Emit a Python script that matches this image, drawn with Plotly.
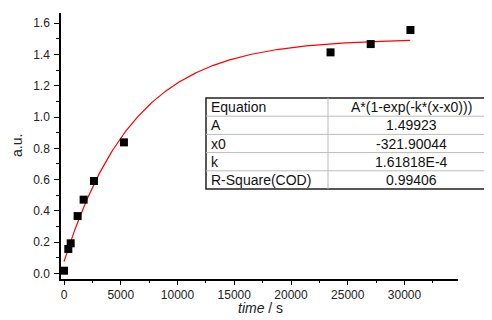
import numpy as np
import plotly.graph_objects as go

# ---- data ----
time_s = [0, 380, 590, 1200, 1730, 2640, 5280, 23480, 27020, 30520]
signal = [0.018, 0.157, 0.193, 0.367, 0.472, 0.591, 0.838, 1.413, 1.466, 1.556]

# fit parameters (as shown in the table)
fit_A = 1.49923
fit_x0 = -321.90044
fit_k = 1.61818e-4
r_square = 0.99406
fit_x_max = 30500

table_labels = ["Equation", "A", "x0", "k", "R-Square(COD)"]
table_values = ["A*(1-exp(-k*(x-x0)))", "1.49923", "-321.90044", "1.61818E-4", "0.99406"]

x_ticks = [0, 5000, 10000, 15000, 20000, 25000, 30000]
y_ticks = [0.0, 0.2, 0.4, 0.6, 0.8, 1.0, 1.2, 1.4, 1.6]

# fitted model curve evaluated from the fit parameters
fit_x = np.linspace(0, fit_x_max, 300)
fit_y = fit_A * (1 - np.exp(-fit_k * (fit_x - fit_x0)))

OFF = 8  # default page body margin
W, H = 492 - OFF, 320 - OFF
L, R, T, B = 61, 458, 13, 279  # plot area in page pixels


def px(x):
    return (x - L) / (R - L)


def py(y):
    return (B - y) / (B - T)


FONT = "Liberation Sans, Arial, sans-serif"

fig = go.Figure()
fig.add_trace(go.Scatter(x=fit_x, y=fit_y, mode="lines",
                         line=dict(color="#ff0000", width=1.2), showlegend=False))
fig.add_trace(go.Scatter(x=time_s, y=signal, mode="markers",
                         marker=dict(symbol="square", size=8, color="black"),
                         showlegend=False))

axis_common = dict(showline=True, linecolor="black", linewidth=1.5, mirror=False,
                   showgrid=False, zeroline=False, ticks="outside",
                   tickwidth=1, tickcolor="black", automargin=False,
                   tickfont=dict(family=FONT, size=12, color="#222"))

fig.update_xaxes(range=[-264, 34710], tickvals=x_ticks, ticklen=4,
                 ticktext=[str(v) for v in x_ticks],
                 minor=dict(dtick=2500, tick0=0, ticks="outside", ticklen=2,
                            tickcolor="black", tickwidth=1),
                 **axis_common)
fig.update_yaxes(range=[-0.035, 1.6645], tickvals=y_ticks, ticklen=5,
                 ticktext=[f"{v:.1f}" for v in y_ticks], ticklabelstandoff=2,
                 minor=dict(dtick=0.1, tick0=0, ticks="outside", ticklen=3,
                            tickcolor="black", tickwidth=1),
                 **axis_common)

# ---- parameter table (page pixels) ----
tx0, tx1, txm = 206, 491, 328
ty0 = 98
row_h = 18.2
n = len(table_labels)
ty1 = ty0 + row_h * n
shapes = []
shapes.append(dict(type="rect", xref="paper", yref="paper",
                   x0=px(tx0), x1=px(tx1), y0=py(ty1), y1=py(ty0),
                   fillcolor="white", line=dict(color="#222", width=1.5), layer="above"))
for i in range(1, n):
    yy = ty0 + row_h * i
    shapes.append(dict(type="line", xref="paper", yref="paper",
                       x0=px(tx0), x1=px(tx1), y0=py(yy), y1=py(yy),
                       line=dict(color="#bbbbbb", width=1), layer="above"))
shapes.append(dict(type="line", xref="paper", yref="paper",
                   x0=px(txm), x1=px(txm), y0=py(ty0), y1=py(ty1),
                   line=dict(color="#bbbbbb", width=1), layer="above"))

annotations = []
for i, (lab, val) in enumerate(zip(table_labels, table_values)):
    yc = ty0 + row_h * (i + 0.5)
    annotations.append(dict(x=px(tx0 + 3), y=py(yc), xref="paper", yref="paper",
                            text=lab, showarrow=False, xanchor="left", yanchor="middle",
                            font=dict(family=FONT, size=14, color="#111")))
    annotations.append(dict(x=px(411), y=py(yc), xref="paper", yref="paper",
                            text=val, showarrow=False, xanchor="center", yanchor="middle",
                            font=dict(family=FONT, size=14, color="#111")))

# axis titles
annotations.append(dict(x=px(260), y=py(308), xref="paper", yref="paper",
                        text="<i>time</i> / s", showarrow=False,
                        xanchor="center", yanchor="middle",
                        font=dict(family=FONT, size=14, color="#222")))
annotations.append(dict(x=px(17), y=py(146), xref="paper", yref="paper",
                        text="a.u.", showarrow=False, textangle=-90,
                        xanchor="center", yanchor="middle",
                        font=dict(family=FONT, size=14, color="#222")))

fig.update_layout(width=W, height=H,
                  margin=dict(l=L - OFF, r=W - (R - OFF), t=T - OFF, b=H - (B - OFF)),
                  paper_bgcolor="white", plot_bgcolor="white",
                  shapes=shapes, annotations=annotations,
                  font=dict(family=FONT))

fig.write_html("out.html")
